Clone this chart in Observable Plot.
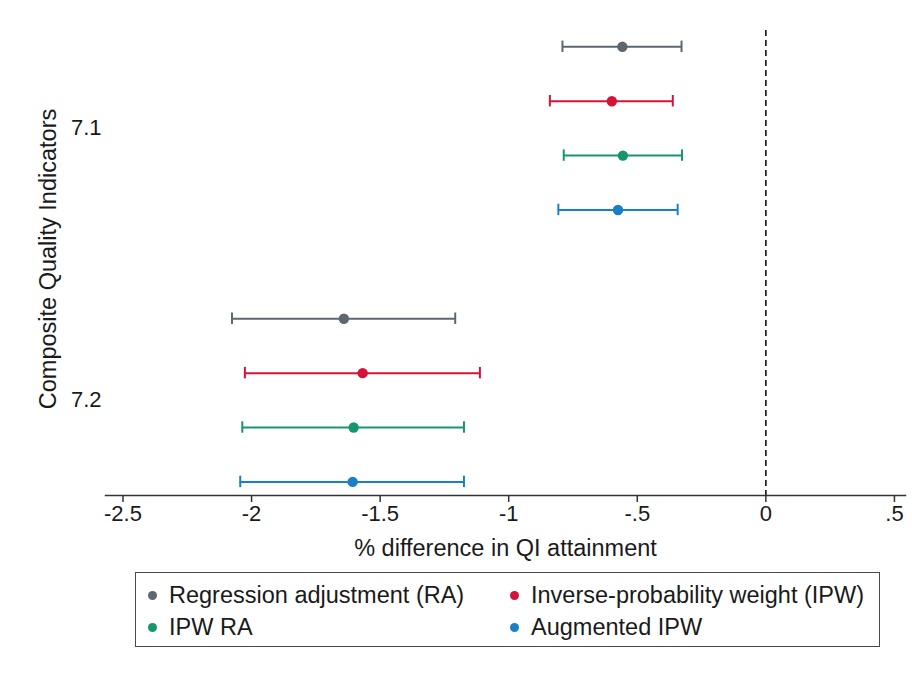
<!DOCTYPE html>
<html>
<head>
<meta charset="utf-8">
<script src="https://cdn.jsdelivr.net/npm/d3@7"></script>
<script src="https://cdn.jsdelivr.net/npm/@observablehq/plot@0.6"></script>
<style>
  body { margin: 0; background: #fff; font-family: "Liberation Sans", Arial, sans-serif; }
  #wrap { position: relative; width: 912px; height: 675px; }
  #legend { position: absolute; left: 135px; top: 572px; width: 745px; height: 75px;
    border: 1.5px solid #4a4a4a; box-sizing: border-box; font-size: 23.5px; color: #1a1a1a; }
  .item { position: absolute; display: flex; align-items: center; white-space: nowrap; }
  .sw { width: 9px; height: 9px; border-radius: 50%; margin-right: 12px; }
</style>
</head>
<body>
<div id="wrap">
  <div id="chart"></div>
  <div id="legend"></div>
</div>
<script>
const methods = ["Regression adjustment (RA)", "Inverse-probability weight (IPW)", "IPW RA", "Augmented IPW"];
const colors = ["#5d6770", "#d5133a", "#16966f", "#1a80c5"];
const indicators = ["7.1", "7.2"];
const est71 = [-0.558, -0.599, -0.556, -0.575];
const lo71  = [-0.791, -0.840, -0.786, -0.807];
const hi71  = [-0.328, -0.362, -0.326, -0.343];
const est72 = [-1.641, -1.568, -1.603, -1.607];
const lo72  = [-2.076, -2.026, -2.036, -2.044];
const hi72  = [-1.208, -1.112, -1.174, -1.174];
const xTicks = [-2.5, -2, -1.5, -1, -0.5, 0, 0.5];

const est = [est71, est72], lo = [lo71, lo72], hi = [hi71, hi72];
const rows = [];
indicators.forEach((ind, i) => {
  methods.forEach((m, j) => {
    rows.push({indicator: ind, method: m, pos: i * 5 + j + 1, est: est[i][j], lo: lo[i][j], hi: hi[i][j]});
  });
});
const indPos = indicators.map((d, i) => i * 5 + 2.5);
const capHalf = 0.105;
const fmt = d => d === 0 ? "0" : String(d).replace(/^(-?)0\./, "$1.");

const chart = Plot.plot({
  width: 912,
  height: 565,
  marginLeft: 105,
  marginRight: 7,
  marginTop: 30,
  marginBottom: 70,
  style: {fontFamily: "'Liberation Sans', Arial, sans-serif", fontSize: "22px", color: "#1a1a1a", background: "#fff"},
  x: {domain: [-2.568, 0.543]},
  y: {domain: [0.7, 9.25], range: [30, 495]},
  color: {domain: methods, range: colors},
  marks: [
    Plot.ruleX([0], {stroke: "#111", strokeWidth: 1.6, strokeDasharray: "6,4"}),
    Plot.ruleY(rows, {y: "pos", x1: "lo", x2: "hi", stroke: "method", strokeWidth: 2}),
    Plot.ruleX(rows, {x: "lo", y1: d => d.pos - capHalf, y2: d => d.pos + capHalf, stroke: "method", strokeWidth: 2}),
    Plot.ruleX(rows, {x: "hi", y1: d => d.pos - capHalf, y2: d => d.pos + capHalf, stroke: "method", strokeWidth: 2}),
    Plot.dot(rows, {x: "est", y: "pos", fill: "method", r: 5.2}),
    Plot.frame({anchor: "bottom", stroke: "#333", strokeWidth: 1.5}),
    Plot.axisX({ticks: xTicks, tickFormat: fmt, tickSize: 7, tickPadding: 3, label: null, stroke: "#333", strokeWidth: 1.5}),
    Plot.axisY({ticks: indPos, tickFormat: (d) => indicators[indPos.indexOf(d)], tickSize: 0, tickPadding: 4, label: null}),
    Plot.text(["% difference in QI attainment"], {frameAnchor: "bottom", dy: 53, lineAnchor: "middle", textAnchor: "middle", fontSize: 23.5, fill: "#1a1a1a"}),
    Plot.text(["Composite Quality Indicators"], {frameAnchor: "left", dx: -57, dy: -4, rotate: -90, lineAnchor: "middle", textAnchor: "middle", fontSize: 23.5, fill: "#1a1a1a"})
  ]
});
document.getElementById("chart").appendChild(chart);

const legend = document.getElementById("legend");
const pos = [[12, 23], [374, 23], [12, 55], [374, 55]];
methods.forEach((m, i) => {
  const it = document.createElement("div");
  it.className = "item";
  it.style.left = pos[i][0] + "px";
  it.style.top = (pos[i][1] - 14) + "px";
  const sw = document.createElement("span");
  sw.className = "sw";
  sw.style.background = colors[i];
  const tx = document.createElement("span");
  tx.textContent = m;
  it.appendChild(sw);
  it.appendChild(tx);
  legend.appendChild(it);
});
</script>
</body>
</html>
